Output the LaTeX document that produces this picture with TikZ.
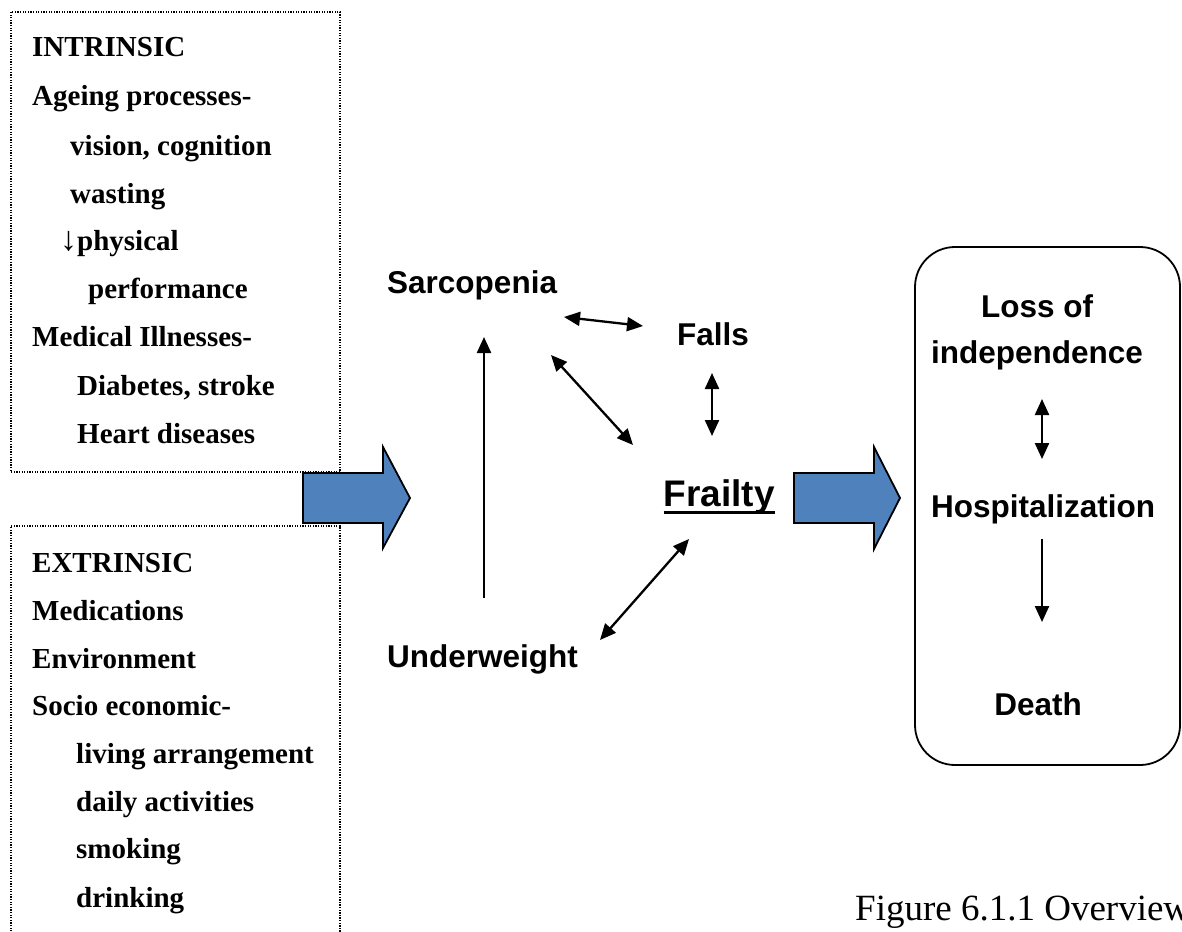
\documentclass[tikz,border=0pt]{standalone}
\usepackage{fontspec}
\setmainfont{Liberation Serif}
\newfontfamily\arialf{Liberation Sans}
\usetikzlibrary{arrows.meta}
\definecolor{arrowblue}{HTML}{4F81BD}
\tikzset{
  lefttxt/.style={anchor=base west, inner sep=0pt, font=\fontsize{29}{34}\selectfont\bfseries},
  sanstxt/.style={inner sep=0pt, font=\arialf\fontsize{31.5}{36}\selectfont\bfseries},
  dotbox/.style={draw, line width=1.3pt, dash pattern=on 1.3pt off 1.3pt},
  bigarrow/.style={draw, line width=1.8pt, fill=arrowblue, line join=miter},
  conn/.style={line width=2.3pt, -{Triangle[length=16pt,width=14pt]}},
  dconn/.style={line width=2.3pt, {Triangle[length=16pt,width=14pt]}-{Triangle[length=16pt,width=14pt]}},
}
\begin{document}
\begin{tikzpicture}[x=1pt,y=-1pt]
\useasboundingbox (0,0) rectangle (1182,931);
\fill[white] (0,0) rectangle (1182,931);
\clip (0,0) rectangle (1182,931);

% dotted boxes
\draw[dotbox] (11,12) rectangle (340,472);
\draw[dotbox] (11,960) -- (11,526) -- (340,526) -- (340,960);

% intrinsic text
\node[lefttxt] (in1) at (32,57) {INTRINSIC};
\node[lefttxt] (in2) at (32,106) {Ageing processes-};
\node[lefttxt] (in3) at (70,155) {vision, cognition};
\node[lefttxt] (in4) at (70,203) {wasting};
\node[lefttxt] (in5) at (60,250) {{\fontsize{34}{34}\selectfont ↓}physical};
\node[lefttxt] (in6) at (88,298) {performance};
\node[lefttxt] (in7) at (32,346) {Medical Illnesses-};
\node[lefttxt] (in8) at (77,395) {Diabetes, stroke};
\node[lefttxt] (in9) at (77,443) {Heart diseases};

% extrinsic text
\node[lefttxt] (ex1) at (32,572) {EXTRINSIC};
\node[lefttxt] (ex2) at (32,620) {Medications};
\node[lefttxt] (ex3) at (32,668) {Environment};
\node[lefttxt] (ex4) at (32,715) {Socio economic-};
\node[lefttxt] (ex5) at (76,763) {living arrangement};
\node[lefttxt] (ex6) at (76,811) {daily activities};
\node[lefttxt] (ex7) at (76,858) {smoking};
\node[lefttxt] (ex8) at (76,907) {drinking};

% big blue arrows
\draw[bigarrow] (303,473) -- (383,473) -- (383,447) -- (410,498) -- (383,548) -- (383,523) -- (303,523) -- cycle;
\draw[bigarrow] (794,473) -- (874,473) -- (874,447) -- (900,498) -- (874,549) -- (874,523) -- (794,523) -- cycle;

% middle nodes
\node[sanstxt, anchor=base west] (sar) at (387,293) {Sarcopenia};
\node[sanstxt, anchor=base west] (fal) at (677,345) {Falls};
\node[sanstxt, anchor=base east, font=\arialf\fontsize{37}{42}\selectfont\bfseries] (fra) at (775,506) {Frailty};
\draw[line width=3pt] ([yshift=-6.5pt]fra.base west) -- ([yshift=-6.5pt]fra.base east);
\node[sanstxt, anchor=base west] (und) at (387,667) {Underweight};

% outcome box
\draw[line width=1.8pt, rounded corners=40pt] (915,247) rectangle (1180,765);
\node[sanstxt, anchor=base] (loss) at (1037,317) {Loss of};
\node[sanstxt, anchor=base] (ind) at (1037,363) {independence};
\node[sanstxt, anchor=base] (hos) at (1043,517) {Hospitalization};
\node[sanstxt, anchor=base] (dea) at (1038,715) {Death};

% connector end points
\coordinate (uS) at (484,598);
\coordinate (uE) at (484,337);
\coordinate (sfA) at (564,317);
\coordinate (sfB) at (643,326);
\coordinate (sdA) at (551,355);
\coordinate (sdB) at (633,445);
\coordinate (ffA) at (712,373);
\coordinate (ffB) at (712,436);
\coordinate (ufA) at (600,640);
\coordinate (ufB) at (689,539);
\coordinate (lhA) at (1042,399);
\coordinate (lhB) at (1042,459);
\coordinate (hdA) at (1042,539);
\coordinate (hdB) at (1042,622);

\draw[conn] (uS) -- (uE);
\draw[dconn] (sfA) -- (sfB);
\draw[dconn] (sdA) -- (sdB);
\draw[dconn] (ffA) -- (ffB);
\draw[dconn] (ufA) -- (ufB);
\draw[dconn] (lhA) -- (lhB);
\draw[conn] (hdA) -- (hdB);

% caption
\node[anchor=base west, inner sep=0pt, font=\fontsize{37}{42}\selectfont] (cap) at (855,920) {Figure 6.1.1 Overview};
\end{tikzpicture}
\end{document}
